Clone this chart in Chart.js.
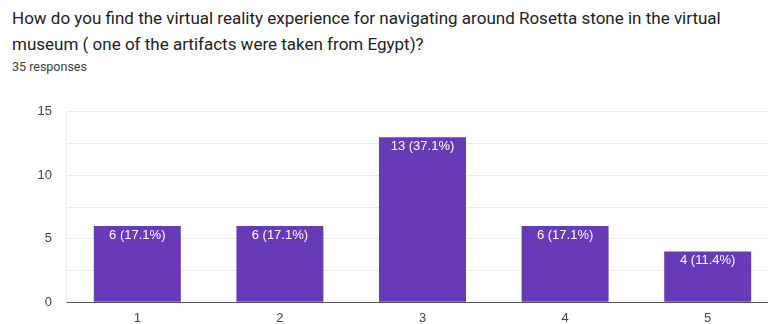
<!DOCTYPE html>
<html>
<head>
<meta charset="utf-8">
<script src="https://cdn.jsdelivr.net/npm/chart.js@4.4.0/dist/chart.umd.min.js"></script>
<style>
  body { margin: 0; width: 768px; height: 324px; overflow: hidden; background: #fff; font-family: Roboto, sans-serif; position: relative; }
  #title { position: absolute; left: 12px; top: 5px; font-size: 17px; line-height: 26px; color: #202124; }
  #sub { position: absolute; left: 12px; top: 59px; font-size: 12.5px; color: #3c4043; }
  #wrap { position: absolute; left: 0; top: 90px; width: 790px; height: 234px; }
</style>
</head>
<body>
<div id="title">How do you find the virtual reality experience for navigating around Rosetta stone in the virtual<br>museum ( one of the artifacts were taken from Egypt)?</div>
<div id="sub">35 responses</div>
<div id="wrap"><canvas id="chart"></canvas></div>
<script>
// values
const categories = ['1', '2', '3', '4', '5'];
const counts = [6, 6, 13, 6, 4];
const percents = ['17.1%', '17.1%', '37.1%', '17.1%', '11.4%'];
const yTicks = [0, 5, 10, 15];

const tickFont = { family: 'Liberation Sans, Arial, sans-serif', size: 13 };

// white "n (p%)" text at the top of each bar
const barLabels = {
    id: 'barLabels',
    afterDatasetsDraw(chart) {
        const ctx = chart.ctx;
        const meta = chart.getDatasetMeta(0);
        ctx.save();
        ctx.fillStyle = '#ffffff';
        ctx.font = '13px "Liberation Sans", Arial, sans-serif';
        ctx.textAlign = 'center';
        ctx.textBaseline = 'middle';
        meta.data.forEach((bar, i) => {
            ctx.fillText(counts[i] + ' (' + percents[i] + ')', bar.x, bar.y + 9);
        });
        ctx.restore();
    }
};

const ctx = document.getElementById('chart').getContext('2d');
const chart = new Chart(ctx, {
    type: 'bar',
    data: {
        labels: categories,
        datasets: [{
            data: counts,
            backgroundColor: '#673ab7',
            borderWidth: 0,
            barPercentage: 0.61,
            categoryPercentage: 1
        }]
    },
    options: {
        responsive: true,
        maintainAspectRatio: false,
        animation: false,
        layout: { padding: { top: 20, right: 11, left: 0, bottom: 0 } },
        plugins: {
            legend: { display: false },
            tooltip: { enabled: false }
        },
        scales: {
            x: {
                grid: { display: false, drawTicks: false },
                border: { color: '#555', width: 1 },
                ticks: { color: '#444', font: tickFont, padding: 8 },
                afterFit(s) { s.height = 21; }
            },
            y: {
                min: 0,
                max: 15,
                grid: { color: '#ebebeb', drawTicks: false },
                border: { color: '#ebebeb' },
                ticks: {
                    stepSize: 2.5,
                    color: '#444',
                    font: tickFont,
                    padding: 14,
                    callback: (v) => yTicks.includes(v) ? v : ''
                },
                afterFit(s) { s.width = 66; }
            }
        }
    },
    plugins: [barLabels]
});
</script>
</body>
</html>
